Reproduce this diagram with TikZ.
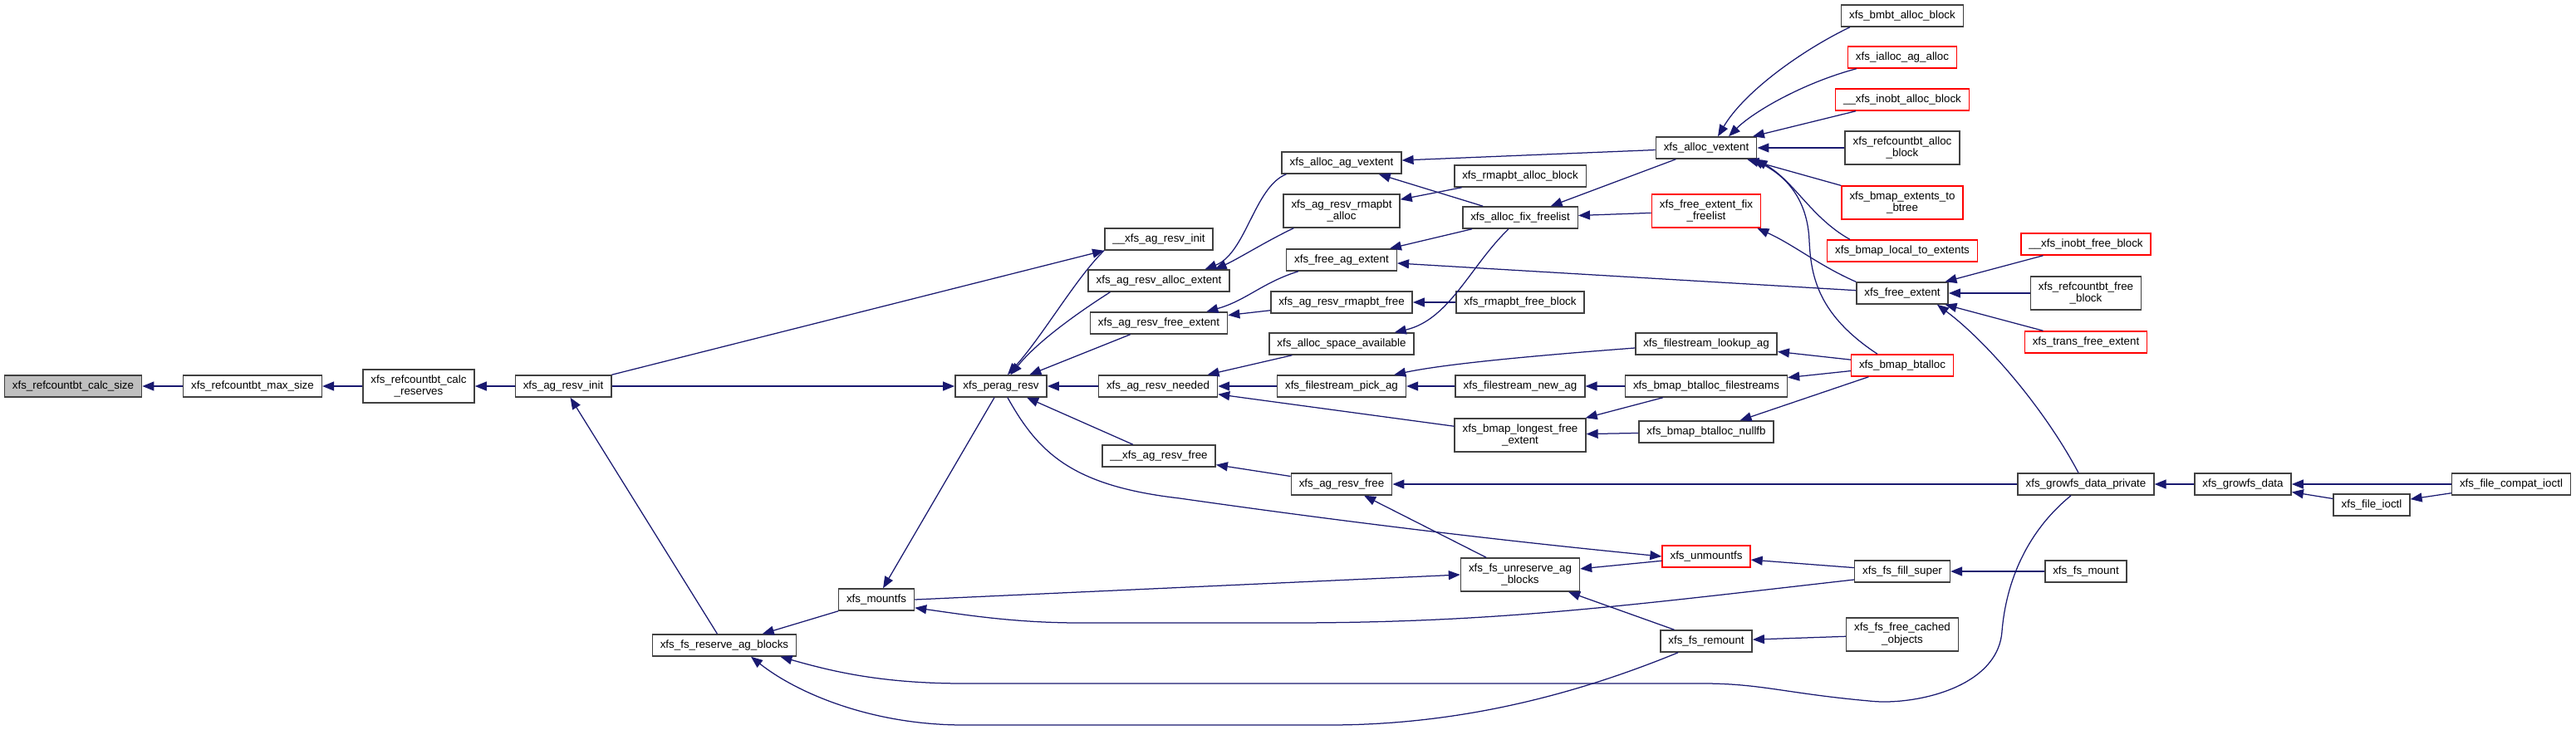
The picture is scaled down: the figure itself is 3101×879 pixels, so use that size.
\documentclass[tikz,border=0pt]{standalone}
\usepackage{fontspec}
\setmainfont{Liberation Sans}
\usetikzlibrary{arrows.meta,calc}
\definecolor{edgeblue}{RGB}{25,25,112}
\definecolor{hitgray}{RGB}{191,191,191}

\begin{document}
\begin{tikzpicture}[x=0.02cm,y=-0.02cm,
	fn/.style={draw=black!75,line width=0.03cm,fill=white,inner xsep=0.19cm,inner ysep=0.05cm,
		minimum height=0.52cm,font=\fontsize{7.6}{8.5}\selectfont,align=center},
	two/.style={minimum height=0.8cm},
	hit/.style={fill=hitgray},
	redfn/.style={draw=red},
	call/.style={draw=edgeblue,line width=0.025cm,-{Triangle[length=0.28cm,width=0.22cm]}}]
\useasboundingbox (0,0) rectangle (3101,879);
%
	\node[fn,hit] (calcsize) at (88,465) {xfs\_refcountbt\_calc\_size};
	\node[fn] (maxsize) at (304,465) {xfs\_refcountbt\_max\_size};
	\node[fn,two] (calcres) at (504,465) {xfs\_refcountbt\_calc\\\_reserves};
	\node[fn] (resvinit) at (678,465) {xfs\_ag\_resv\_init};
	\node[fn] (reserveag) at (872,777) {xfs\_fs\_reserve\_ag\_blocks};
	\node[fn] (mountfs) at (1055,722) {xfs\_mountfs};
	\node[fn] (peragresv) at (1205,465) {xfs\_perag\_resv};
%
	\node[fn] (uresvinit) at (1395,288) {\_\_xfs\_ag\_resv\_init};
	\node[fn] (allocext) at (1395,338) {xfs\_ag\_resv\_alloc\_extent};
	\node[fn] (freeext) at (1395,389) {xfs\_ag\_resv\_free\_extent};
	\node[fn] (needed) at (1394,465) {xfs\_ag\_resv\_needed};
	\node[fn] (uresvfree) at (1395,549) {\_\_xfs\_ag\_resv\_free};
%
	\node[fn] (allocagvext) at (1615,196) {xfs\_alloc\_ag\_vextent};
	\node[fn,two] (resvrmapalloc) at (1615,254) {xfs\_ag\_resv\_rmapbt\\\_alloc};
	\node[fn] (freeagext) at (1615,313) {xfs\_free\_ag\_extent};
	\node[fn] (resvrmapfree) at (1615,364) {xfs\_ag\_resv\_rmapbt\_free};
	\node[fn] (spaceavail) at (1615,414) {xfs\_alloc\_space\_available};
	\node[fn] (pickag) at (1615,465) {xfs\_filestream\_pick\_ag};
	\node[fn] (resvfree) at (1615,583) {xfs\_ag\_resv\_free};
%
	\node[fn] (rmapalloc) at (1830,212) {xfs\_rmapbt\_alloc\_block};
	\node[fn] (fixfree) at (1830,262) {xfs\_alloc\_fix\_freelist};
	\node[fn] (rmapfree) at (1830,364) {xfs\_rmapbt\_free\_block};
	\node[fn] (newag) at (1830,465) {xfs\_filestream\_new\_ag};
	\node[fn,two] (longest) at (1830,524) {xfs\_bmap\_longest\_free\\\_extent};
	\node[fn,two] (unreserve) at (1830,692) {xfs\_fs\_unreserve\_ag\\\_blocks};
%
	\node[fn] (allocvext) at (2054,178) {xfs\_alloc\_vextent};
	\node[fn,two,redfn] (extfix) at (2054,254) {xfs\_free\_extent\_fix\\\_freelist};
	\node[fn] (lookupag) at (2054,414) {xfs\_filestream\_lookup\_ag};
	\node[fn] (btallocfs) at (2054,465) {xfs\_bmap\_btalloc\_filestreams};
	\node[fn] (nullfb) at (2054,520) {xfs\_bmap\_btalloc\_nullfb};
	\node[fn,redfn] (unmountfs) at (2054,670) {xfs\_unmountfs};
	\node[fn] (remount) at (2054,772) {xfs\_fs\_remount};
%
	\node[fn] (bmbtalloc) at (2290,19) {xfs\_bmbt\_alloc\_block};
	\node[fn,redfn] (iallocag) at (2290,69) {xfs\_ialloc\_ag\_alloc};
	\node[fn,redfn] (inobtalloc) at (2290,120) {\_\_xfs\_inobt\_alloc\_block};
	\node[fn,two] (refalloc) at (2290,178) {xfs\_refcountbt\_alloc\\\_block};
	\node[fn,two,redfn] (extbtree) at (2290,244) {xfs\_bmap\_extents\_to\\\_btree};
	\node[fn,redfn] (localext) at (2290,302) {xfs\_bmap\_local\_to\_extents};
	\node[fn] (freeextent) at (2290,353) {xfs\_free\_extent};
	\node[fn,redfn] (btalloc) at (2290,440) {xfs\_bmap\_btalloc};
	\node[fn] (fillsuper) at (2290,688) {xfs\_fs\_fill\_super};
	\node[fn,two] (cached) at (2290,764) {xfs\_fs\_free\_cached\\\_objects};
%
	\node[fn,redfn] (inobtfree) at (2511,294) {\_\_xfs\_inobt\_free\_block};
	\node[fn,two] (reffree) at (2511,353) {xfs\_refcountbt\_free\\\_block};
	\node[fn,redfn] (transfree) at (2511,412) {xfs\_trans\_free\_extent};
	\node[fn] (growpriv) at (2511,583) {xfs\_growfs\_data\_private};
	\node[fn] (fsmount) at (2511,688) {xfs\_fs\_mount};
	\node[fn] (growdata) at (2700,583) {xfs\_growfs\_data};
	\node[fn] (fileioctl) at (2855,608) {xfs\_file\_ioctl};
	\node[fn] (compat) at (3023,583) {xfs\_file\_compat\_ioctl};
%
	\draw[call] (maxsize) -- (calcsize);
	\draw[call] (calcres) -- (maxsize);
	\draw[call] (resvinit) -- (calcres);
	\draw[call] (resvinit.north east) -- (uresvinit.south west);
	\draw[call] (resvinit) -- (peragresv);
	\draw[call] (reserveag) -- (resvinit);
	\draw[call] (uresvinit.south west) .. controls (1295,335) and (1255,405) .. (peragresv.60);
	\draw[call] ($(allocext.south west)+(27,0)$) .. controls (1300,375) and (1250,410) .. (peragresv.50);
	\draw[call] (freeext) -- (peragresv);
	\draw[call] (needed) -- (peragresv);
	\draw[call] (uresvfree) -- (peragresv);
	\draw[call] (peragresv) -- (mountfs);
	\draw[call] (peragresv.-60) .. controls (1250,545) and (1290,585) .. (1420,600) .. controls (1700,640) and (1900,660) .. (unmountfs.west);
	\draw[call] (mountfs) -- (reserveag);
	\draw[call] (mountfs.east) -- (unreserve.west);
	\draw[call] ($(fillsuper.west)+(0,10)$) .. controls (1950,730) and (1800,750) .. (1550,750) -- (1300,750) .. controls (1220,750) and (1160,740) .. (mountfs.-12);
	\draw[call] ($(growpriv.south)+(-18,0)$) .. controls (2440,640) and (2415,700) .. (2410,760) .. controls (2405,830) and (2300,850) .. (2250,844) .. controls (2150,835) and (2120,823) .. (2050,823) -- (1160,823) .. controls (1060,823) and (1000,808) .. ($(reserveag.south east)+(-20,0)$);
	\draw[call] ($(remount.south west)+(22,0)$) .. controls (1900,835) and (1760,873) .. (1600,873) -- (1160,873) .. controls (1050,873) and (960,835) .. ($(reserveag.south)+(32,0)$);
	\draw[call] (growpriv) -- (resvfree);
	\draw[call] ($(growpriv.north)+(-9,0)$) .. controls (2460,490) and (2390,410) .. ($(freeextent.south east)+(-14,0)$);
	\draw[call] (resvfree) -- (uresvfree);
	\draw[call] (unreserve) -- (resvfree);
	\draw[call] (unmountfs) -- (unreserve);
	\draw[call] (remount) -- (unreserve);
	\draw[call] (fillsuper) -- (unmountfs);
	\draw[call] (cached) -- (remount);
	\draw[call] (fsmount) -- (fillsuper);
	\draw[call] (growdata) -- (growpriv);
	\draw[call] (compat) -- (growdata);
	\draw[call] (fileioctl) -- (growdata);
	\draw[call] (compat) -- (fileioctl);
%
	\draw[call] ($(allocagvext.south west)+(6,0)$) .. controls (1510,225) and (1500,305) .. ($(allocext.north east)+(-30,0)$);
	\draw[call] ($(resvrmapalloc.south west)+(13,0)$) .. controls (1525,290) and (1490,312) .. ($(allocext.north east)+(-18,0)$);
	\draw[call] (allocvext) -- (allocagvext);
	\draw[call] (fixfree) -- (allocagvext);
	\draw[call] (rmapalloc) -- (resvrmapalloc);
	\draw[call] (allocvext) -- (fixfree);
	\draw[call] (extfix) -- (fixfree);
	\draw[call] (fixfree) -- (freeagext);
	\draw[call] ($(fixfree.south)+(-14,0)$) .. controls (1770,320) and (1745,385) .. ($(spaceavail.north east)+(-24,0)$);
	\draw[call] (freeextent) -- (freeagext);
	\draw[call] ($(freeagext.south west)+(15,0)$) .. controls (1520,340) and (1500,362) .. ($(freeext.north east)+(-26,0)$);
	\draw[call] (resvrmapfree) -- (freeext);
	\draw[call] (rmapfree) -- (resvrmapfree);
	\draw[call] (spaceavail) -- (needed);
	\draw[call] (pickag) -- (needed);
	\draw[call] (longest) -- (needed);
	\draw[call] ($(lookupag.west)+(0,5)$) .. controls (1850,428) and (1740,438) .. ($(pickag.north east)+(-15,0)$);
	\draw[call] (newag) -- (pickag);
	\draw[call] (btallocfs) -- (newag);
	\draw[call] (btallocfs) -- (longest);
	\draw[call] (nullfb) -- (longest);
	\draw[call] (btalloc) -- (lookupag);
	\draw[call] (btalloc) -- (btallocfs);
	\draw[call] (btalloc) -- (nullfb);
	\draw[call] ($(btalloc.north)+(-30,0)$) .. controls (2190,380) and (2180,335) .. (2178,290) .. controls (2176,240) and (2150,212) .. ($(allocvext.south east)+(-6,0)$);
	\draw[call] ($(localext.north west)+(28,0)$) .. controls (2180,262) and (2160,218) .. ($(allocvext.south east)+(-2,0)$);
	\draw[call] (extbtree) -- (allocvext);
	\draw[call] (refalloc) -- (allocvext);
	\draw[call] (inobtalloc) -- (allocvext);
	\draw[call] ($(iallocag.south west)+(11,0)$) .. controls (2170,100) and (2110,135) .. ($(allocvext.north)+(27,0)$);
	\draw[call] ($(bmbtalloc.south west)+(11,0)$) .. controls (2170,60) and (2100,110) .. ($(allocvext.north)+(14,0)$);
	\draw[call] (freeextent.north west) .. controls (2190,320) and (2160,295) .. ($(extfix.south east)+(-5,0)$);
	\draw[call] (inobtfree) -- (freeextent);
	\draw[call] (reffree) -- (freeextent);
	\draw[call] (transfree) -- (freeextent);
\end{tikzpicture}
\end{document}
